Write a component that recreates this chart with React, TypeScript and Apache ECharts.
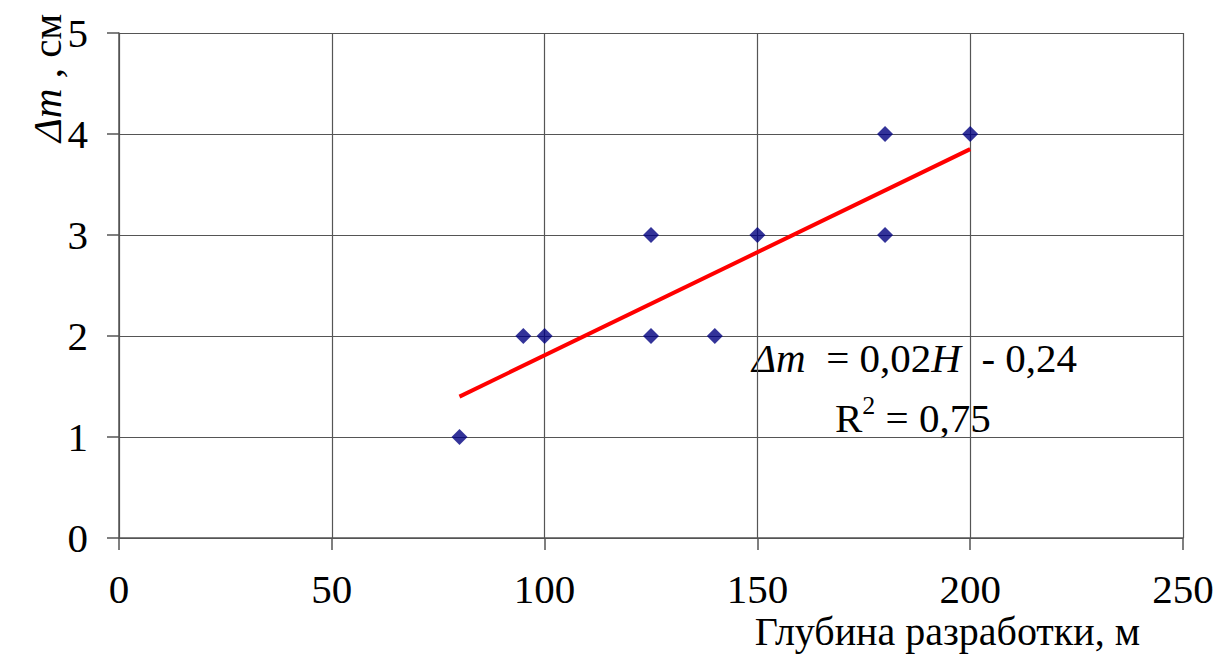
import React, { useEffect, useRef } from "react";
import * as echarts from "echarts";

const depthValues = [80, 95, 100, 125, 125, 140, 150, 180, 180, 200];
const deltaValues = [1, 2, 2, 3, 2, 2, 3, 4, 3, 4];
const trendDepth = [80, 200];
const trendDelta = [1.4, 3.85];
const xTicks = [0, 50, 100, 150, 200, 250];
const yTicks = [0, 1, 2, 3, 4, 5];

const FONT = "'Liberation Serif', 'Times New Roman', serif";
const FS = 41;

export default function App() {
  const ref = useRef<HTMLDivElement>(null);
  useEffect(() => {
    document.body.style.margin = "0";
    const chart = echarts.init(ref.current!, null, { renderer: "svg" });
    const axisColor = "#555";
    chart.setOption({
      animation: false,
      backgroundColor: "#fff",
      textStyle: { fontFamily: FONT },
      grid: { left: 119, top: 33, right: 35, bottom: 116 },
      xAxis: {
        type: "value",
        min: xTicks[0],
        max: xTicks[xTicks.length - 1],
        interval: 50,
        axisLine: { show: true, lineStyle: { color: axisColor, width: 1.5 } },
        axisTick: { show: true, length: 12, lineStyle: { color: axisColor, width: 1.5 } },
        splitLine: { show: true, lineStyle: { color: axisColor, width: 1.2 } },
        axisLabel: { fontSize: FS, lineHeight: 34, color: "#000", margin: 34, fontFamily: FONT },
      },
      yAxis: {
        type: "value",
        min: yTicks[0],
        max: yTicks[yTicks.length - 1],
        interval: 1,
        axisLine: { show: true, lineStyle: { color: axisColor, width: 1.5 } },
        axisTick: { show: true, length: 12, lineStyle: { color: axisColor, width: 1.5 } },
        splitLine: { show: true, lineStyle: { color: axisColor, width: 1.2 } },
        axisLabel: { fontSize: FS, color: "#000", margin: 31, fontFamily: FONT },
      },
      series: [
        {
          type: "line",
          data: trendDepth.map((x, i) => [x, trendDelta[i]]),
          showSymbol: false,
          symbol: "none",
          lineStyle: { color: "#ff0000", width: 4 },
          z: 2,
        },
        {
          type: "scatter",
          data: depthValues.map((x, i) => [x, deltaValues[i]]),
          symbol: "diamond",
          symbolSize: 16,
          itemStyle: { color: "#000080" },
          z: 3,
        },
      ],
      graphic: [
        {
          type: "text",
          x: 47,
          y: 78,
          rotation: Math.PI / 2,
          style: {
            text: "{i|Δm}{n| , см}",
            align: "center",
            verticalAlign: "middle",
            rich: {
              i: { fontFamily: FONT, fontSize: FS, fontStyle: "italic", fill: "#000" },
              n: { fontFamily: FONT, fontSize: FS, fill: "#000" },
            },
          },
        },
        {
          type: "text",
          x: 1140,
          y: 631,
          style: {
            text: "Глубина разработки, м",
            align: "right",
            verticalAlign: "middle",
            fontFamily: FONT,
            fontSize: 40,
            lineHeight: 36,
            fill: "#000",
          },
        },
        {
          type: "text",
          x: 752,
          y: 358,
          style: {
            text: "{i|Δm}{n|  = 0,02}{i|H}{n|  - 0,24}",
            align: "left",
            verticalAlign: "middle",
            rich: {
              i: { fontFamily: FONT, fontSize: FS, fontStyle: "italic", fill: "#000" },
              n: { fontFamily: FONT, fontSize: FS, fill: "#000" },
            },
          },
        },
        {
          type: "text",
          x: 835,
          y: 415,
          style: {
            text: "{n|R}{s|2}{n| = 0,75}",
            align: "left",
            verticalAlign: "middle",
            rich: {
              n: { fontFamily: FONT, fontSize: FS, fill: "#000", verticalAlign: "bottom", lineHeight: 46 },
              s: { fontFamily: FONT, fontSize: 26, fill: "#000", verticalAlign: "top", lineHeight: 46 },
            },
          },
        },
      ],
    });
    return () => chart.dispose();
  }, []);
  return <div ref={ref} style={{ width: 1218, height: 654 }} />;
}
